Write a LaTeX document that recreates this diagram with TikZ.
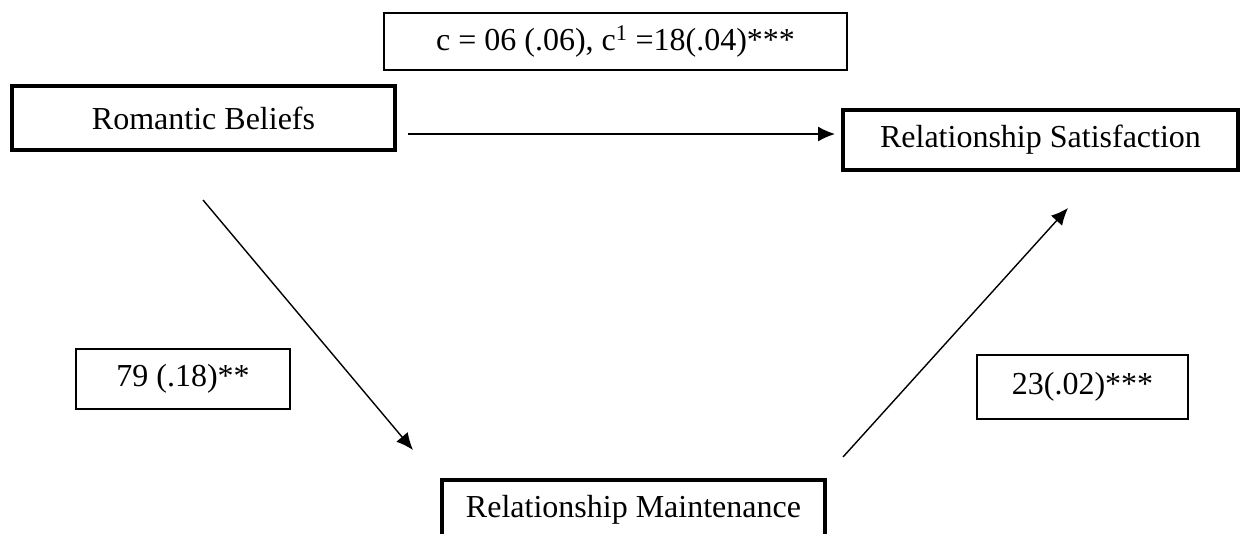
\documentclass[tikz,border=0pt]{standalone}
\usepackage{fontspec}
\setmainfont{Liberation Serif}
\usetikzlibrary{arrows.meta}
\begin{document}
\begin{tikzpicture}[x=1pt,y=-1pt,
  mainbox/.style={draw, line width=3.6pt, inner sep=0pt, font=\fontsize{32}{38}\selectfont},
  lblbox/.style={draw, line width=1.4pt, inner sep=0pt, font=\fontsize{32}{38}\selectfont},
  conn/.style={line width=1.4pt, -{Latex[length=17pt,width=15pt]}}]
\useasboundingbox (0,0) rectangle (1241,533);
\clip (0,0) rectangle (1241,533);
\fill[white] (0,0) rectangle (1241,533);
% main variable boxes
\node[mainbox, minimum width=383pt, minimum height=64pt] (rb) at (203.5,118) {Romantic Beliefs};
\node[mainbox, minimum width=395pt, minimum height=60pt] (rs) at (1040.5,140) {Relationship Satisfaction};
\node[mainbox, minimum width=383pt, minimum height=60pt] (rm) at (633.5,510) {Relationship Maintenance};
% label boxes
\node[lblbox, minimum width=463pt, minimum height=57pt] (lc) at (615.5,41.5) {c = 06 (.06), c\textsuperscript{1} =18(.04)***};
\node[lblbox, minimum width=214pt, minimum height=60pt] (la) at (183,379) {79 (.18)**};
\node[lblbox, minimum width=211pt, minimum height=64pt] (lb) at (1082.5,387) {23(.02)***};
% connector end points
\coordinate (h1) at (408,134);
\coordinate (h2) at (835,134);
\coordinate (d1) at (203,200);
\coordinate (d2) at (413,450);
\coordinate (u1) at (843,457);
\coordinate (u2) at (1068,208);
\draw[conn] (h1) -- (h2);
\draw[conn] (d1) -- (d2);
\draw[conn] (u1) -- (u2);
\end{tikzpicture}
\end{document}
